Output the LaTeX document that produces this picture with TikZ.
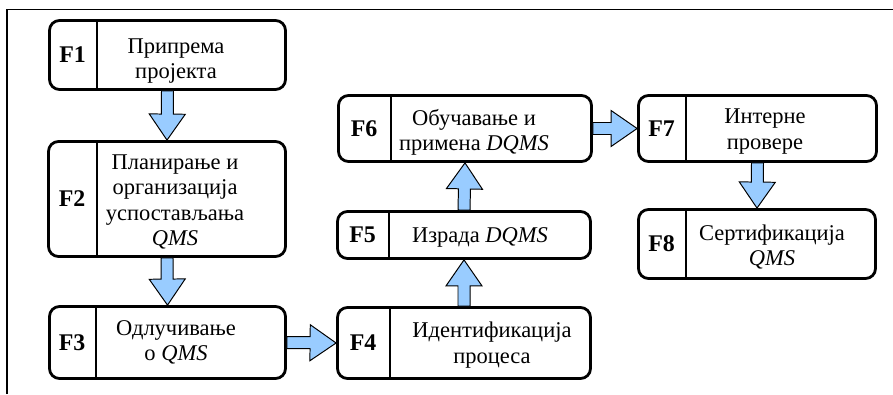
\documentclass[tikz,border=0pt]{standalone}
\usepackage{fontspec}
\setmainfont{Liberation Serif}
\usetikzlibrary{calc}

\definecolor{arrowblue}{RGB}{153,204,255}

% box with the phase tag on the left and its text on the right
\newcommand{\phase}[8]{%
    \node[phasebox, minimum width=#3*0.025cm, minimum height=#4*0.025cm] (#1) at #2 {};
    \draw[phaseline] ([xshift=#5*0.025cm]#1.north west) -- ([xshift=#5*0.025cm]#1.south west);
    \node[tagtext] (#1-tag) at ($(#1.west)!0.5!([xshift=#5*0.025cm]#1.west)$) {#6};
    \node[phasetext] (#1-txt) at ($(#1.center)+(#7)$) {#8};
}

% fat arrow from one anchor to another
\newcommand{\blockarrow}[2]{%
    \coordinate (ba-s) at (#1);
    \coordinate (ba-t) at (#2);
    \coordinate (ba-h) at ($(ba-t)!0.65cm!(ba-s)$);
    \filldraw[blockarr] ($(ba-s)!0.15cm!90:(ba-t)$) -- ($(ba-h)!0.15cm!90:(ba-t)$)
        -- ($(ba-h)!0.45cm!90:(ba-t)$) -- (ba-t) -- ($(ba-h)!0.45cm!-90:(ba-t)$)
        -- ($(ba-h)!0.15cm!-90:(ba-t)$) -- ($(ba-s)!0.15cm!-90:(ba-t)$) -- cycle;
}

\begin{document}
\begin{tikzpicture}[x=0.025cm, y=-0.025cm,
        phasebox/.style={draw, line width=2pt, rounded corners=0.25cm, inner sep=0pt},
        phaseline/.style={line width=1.5pt},
        tagtext/.style={font=\fontsize{17}{20}\selectfont\bfseries, inner sep=0pt},
        phasetext/.style={font=\fontsize{16}{18}\selectfont, align=center, inner sep=0pt},
        blockarr/.style={fill=arrowblue, draw=black, line width=0.7pt, line join=miter},
        frame/.style={line width=0.9pt}]
    \useasboundingbox (0,0) rectangle (893,394);
    \draw[frame] (7,394) -- (7,9.5) -- (893,9.5);

    \phase{F1}{(167.5,55)}{236}{69}{49}{F1}{8.5,6}{Припрема\\пројекта}
    \phase{F2}{(167,199)}{237}{115}{50}{F2}{8,3}{Планирање и\\организација\\успостављања\\\textit{QMS}}
    \phase{F3}{(167.5,342.5)}{236}{72}{48}{F3}{8.5,0}{Одлучивање\\о \textit{QMS}}
    \phase{F4}{(464,343)}{253}{71}{54}{F4}{28,2}{Идентификација\\процеса}
    \phase{F5}{(464,235)}{253}{47}{53}{F5}{16,2}{Израда \textit{DQMS}}
    \phase{F6}{(465,128.5)}{253}{66}{54}{F6}{9,4}{Обучавање и\\примена \textit{DQMS}}
    \phase{F7}{(757.5,128.5)}{238}{66}{49}{F7}{7.5,3}{Интерне\\провере}
    \phase{F8}{(757,244)}{237}{69}{49}{F8}{15,3}{Сертификација\\\textit{QMS}}

    \blockarrow{F1.south}{F2.north}
    \blockarrow{F2.south}{F3.north}
    \blockarrow{F3.east}{F4.west}
    \blockarrow{F4.north}{F5.south}
    \blockarrow{F5.north}{F6.south}
    \blockarrow{F6.east}{F7.west}
    \blockarrow{F7.south}{F8.north}
\end{tikzpicture}
\end{document}
